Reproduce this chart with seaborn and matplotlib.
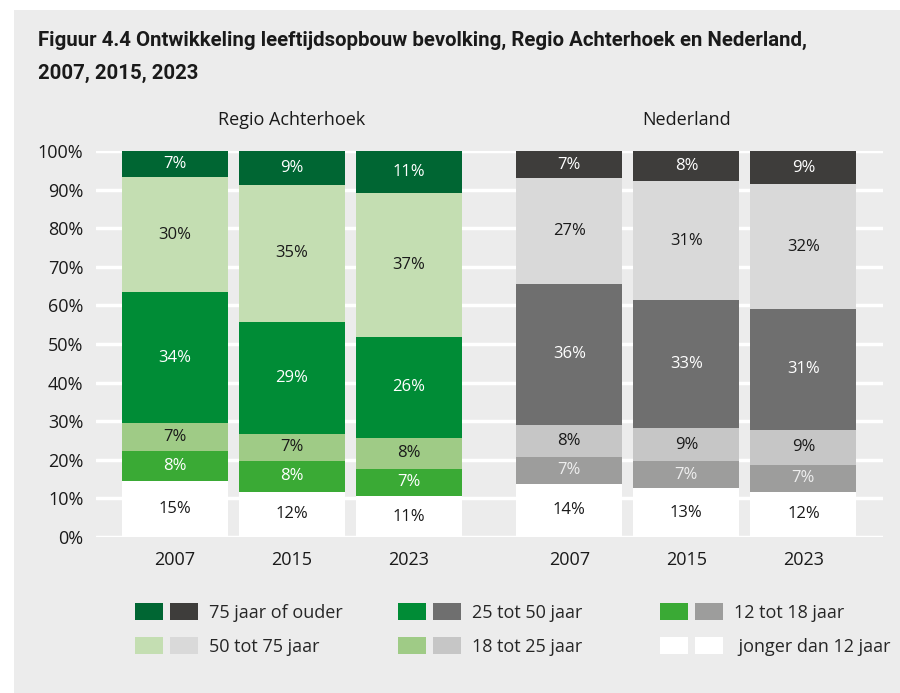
import numpy as np
import pandas as pd
import seaborn as sns
import matplotlib.pyplot as plt
from matplotlib.patches import Rectangle, Patch
from matplotlib.legend_handler import HandlerTuple
import matplotlib.transforms as mtransforms

# Data (aandeel in %, per balk: Achterhoek 2007/2015/2023, Nederland 2007/2015/2023)
jaren = ['2007', '2015', '2023']
gebieden = ['Regio Achterhoek', 'Nederland']
klassen = ['jonger dan 12 jaar', '12 tot 18 jaar', '18 tot 25 jaar',
           '25 tot 50 jaar', '50 tot 75 jaar', '75 jaar of ouder']
jonger_12 = [14.6, 11.7, 10.6, 13.8, 12.6, 11.7]
van_12_18 = [7.8, 8.0, 7.1, 7.0, 7.0, 7.0]
van_18_25 = [7.1, 7.1, 7.9, 8.3, 8.7, 9.1]
van_25_50 = [33.9, 29.0, 26.3, 36.4, 33.0, 31.2]
van_50_75 = [29.8, 35.4, 37.2, 27.4, 30.9, 32.4]
ouder_75 = [6.8, 8.8, 10.9, 7.1, 7.8, 8.6]

groen = ['#ffffff', '#3aaa35', '#9fcb86', '#008c36', '#c4deb2', '#006633']
grijs = ['#ffffff', '#9d9d9c', '#c6c6c6', '#6f6f6f', '#d9d9d9', '#3e3d3b']
tekstkleur_groen = ['#1a1a1a', 'white', '#1a1a1a', 'white', '#1a1a1a', 'white']
tekstkleur_grijs = ['#1a1a1a', '#eeeeee', '#1a1a1a', 'white', '#1a1a1a', 'white']

# layout: 3 balken per gebied, iets meer ruimte tussen de gebieden
groep_afstand = 3.37
posities = [g * groep_afstand + i for g in range(2) for i in range(3)]

waarden = [jonger_12, van_12_18, van_18_25, van_25_50, van_50_75, ouder_75]
rijen = []
for k, klasse in enumerate(klassen):
    for b in range(6):
        onder = sum(waarden[j][b] for j in range(k))
        rijen.append({'gebied': gebieden[b // 3], 'jaar': jaren[b % 3],
                      'pos': posities[b], 'klasse': klasse,
                      'waarde': waarden[k][b], 'onder': onder,
                      'top': onder + waarden[k][b]})
df = pd.DataFrame(rijen)

sns.set_style('white')
plt.rcParams['font.family'] = ['Open Sans', 'DejaVu Sans']

fig = plt.figure(figsize=(9, 6.93), dpi=100, facecolor='white')
fig.add_artist(Rectangle((14 / 900, 0), 1, 683 / 693, transform=fig.transFigure,
                         facecolor='#ececec', edgecolor='none', zorder=-10))
ax = fig.add_axes([96 / 900, 1 - 537 / 693, 787 / 900, 386 / 693])
ax.set_facecolor('#ececec')

# gestapelde balken: van bovenste (cumulatief) naar onderste tekenen
for k in range(len(klassen) - 1, -1, -1):
    sub = df[df['klasse'] == klassen[k]]
    sns.barplot(data=sub, x='pos', y='top', hue='gebied',
                palette={gebieden[0]: groen[k], gebieden[1]: grijs[k]},
                native_scale=True, width=0.906, dodge=False, saturation=1,
                errorbar=None, legend=False, linewidth=0, ax=ax)

# percentages in de balken
for _, r in df.iterrows():
    kleuren = tekstkleur_groen if r['gebied'] == gebieden[0] else tekstkleur_grijs
    k = klassen.index(r['klasse'])
    ax.text(r['pos'], r['onder'] + r['waarde'] / 2, f"{int(round(r['waarde']))}%",
            ha='center', va='center', fontsize=12, color=kleuren[k])

ax.set_xlim(-0.675, 6.05)
ax.set_ylim(0, 100)
ax.set_yticks(range(0, 101, 10))
ax.set_yticklabels([f'{v}%' for v in range(0, 101, 10)])
ax.set_xticks(posities)
ax.set_xticklabels(jaren * 2)
ax.tick_params(axis='both', length=0, labelsize=13, colors='#1a1a1a')
ax.tick_params(axis='x', pad=10)
ax.tick_params(axis='y', pad=9)
ax.set_xlabel('')
ax.set_ylabel('')
ax.grid(axis='y', color='white', linewidth=2.5)
ax.set_axisbelow(True)
sns.despine(ax=ax, left=True, bottom=True)

# gebiedsnamen boven de balken
trans = mtransforms.blended_transform_factory(ax.transData, ax.transAxes)
for g, naam in enumerate(gebieden):
    ax.text(np.mean(posities[g * 3:g * 3 + 3]), 1.08, naam, transform=trans,
            ha='center', va='center', fontsize=13, color='#1a1a1a')

# titel (smal, vet lettertype; grootte zo gekozen dat de regel 771 px breed is)
titel1 = fig.text(38 / 900, 1 - 40 / 693,
                  'Figuur 4.4 Ontwikkeling leeftijdsopbouw bevolking, Regio Achterhoek en Nederland,',
                  family=['Roboto', 'DejaVu Sans'], fontweight='bold',
                  fontsize=14, va='center', ha='left', color='#1a1a1a')
titel2 = fig.text(38 / 900, 1 - 73 / 693, '2007, 2015, 2023',
                  family=['Roboto', 'DejaVu Sans'], fontweight='bold',
                  fontsize=14, va='center', ha='left', color='#1a1a1a')
breedte = titel1.get_window_extent(renderer=fig.canvas.get_renderer()).width
maat = 14 * 771 / breedte
titel1.set_fontsize(maat)
titel2.set_fontsize(maat)

# legenda: drie kolommen met telkens een groen en grijs vakje
legenda_volgorde = [[5, 4], [3, 2], [1, 0]]
kolom_x = [135, 398, 660]
for kol, idx in enumerate(legenda_volgorde):
    handles = [(Patch(facecolor=groen[i], edgecolor='none'),
                Patch(facecolor=grijs[i], edgecolor='none')) for i in idx]
    labels = [(' ' if klassen[i].startswith('jonger') else '') + klassen[i] for i in idx]
    fig.legend(handles, labels, loc='upper left',
               bbox_to_anchor=(kolom_x[kol] / 900, 1 - 603 / 693),
               handler_map={tuple: HandlerTuple(ndivide=None, pad=0.4)},
               handlelength=3.5, handleheight=1.1, handletextpad=0.6,
               labelspacing=0.85, borderpad=0, borderaxespad=0, frameon=False,
               prop={'size': 13})

fig.savefig('out.png', dpi=100, facecolor='white')
